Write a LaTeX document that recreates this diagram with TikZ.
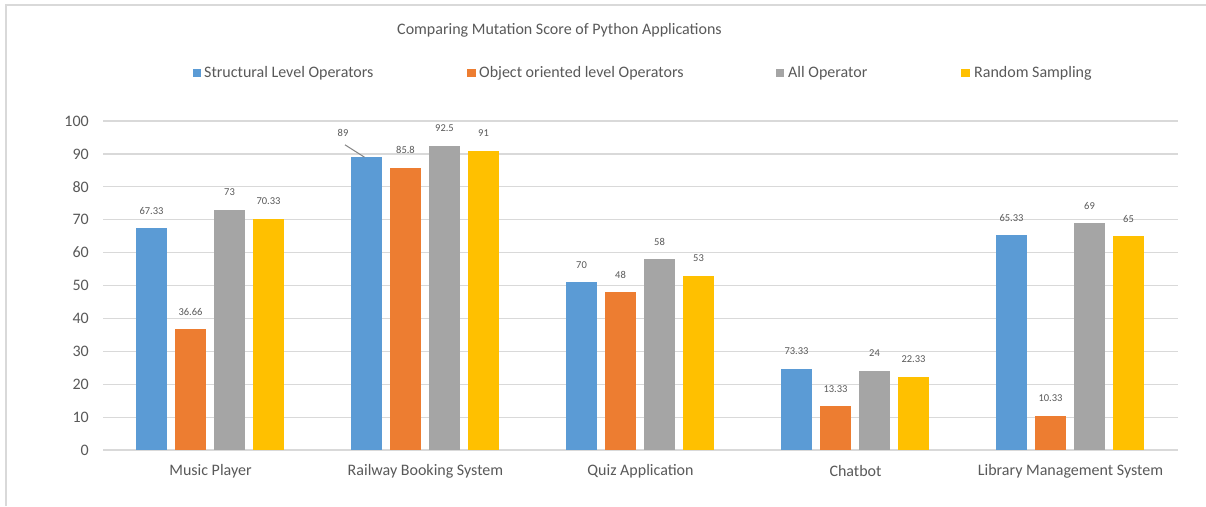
\documentclass[tikz,border=0pt]{standalone}
\usepackage{fontspec}
\setmainfont{Carlito}
\definecolor{c0}{HTML}{5B9BD5}
\definecolor{c1}{HTML}{ED7D31}
\definecolor{c2}{HTML}{A5A5A5}
\definecolor{c3}{HTML}{FFC000}
\definecolor{txt}{HTML}{595959}
\definecolor{gridc}{HTML}{D9D9D9}
\begin{document}
\begin{tikzpicture}[x=1pt,y=-1pt,
  gridline/.style={draw=gridc,line width=1.2pt},
  framel/.style={draw=gridc,line width=1.2pt},
  bar/.style={inner sep=0pt,outer sep=0pt,minimum width=31pt,anchor=south west},
  lab/.style={text=txt,font=\fontsize{10.5}{12}\selectfont,inner sep=0pt},
  tick/.style={text=txt,font=\fontsize{16}{19}\selectfont,anchor=east,inner sep=0pt},
  cat/.style={text=txt,font=\fontsize{16}{19}\selectfont,inner sep=0pt},
  legtext/.style={text=txt,font=\fontsize{16}{19}\selectfont,anchor=west,inner sep=0pt},
  legbox/.style={inner sep=0pt,minimum size=8.5pt},
  leader/.style={draw=c2!80!black,line width=1pt}]
\useasboundingbox (0,0) rectangle (1206,506);
\fill[white] (0,0) rectangle (1206,506);
% frame
\draw[framel] (6,506) -- (6,5) -- (1206,5);
% title
\node[text=txt,font=\fontsize{16}{19}\selectfont,inner sep=0pt] (title) at (559.5,30) {Comparing Mutation Score of Python Applications};
% legend
\node[legbox,fill=c0] (k0) at (197,73) {};
\node[legtext] (t0) at (204,73) {Structural Level Operators};
\node[legbox,fill=c1] (k1) at (471.5,73) {};
\node[legtext] (t1) at (479,73) {Object oriented level Operators};
\node[legbox,fill=c2] (k2) at (780,73) {};
\node[legtext] (t2) at (788,73) {All Operator};
\node[legbox,fill=c3] (k3) at (965.5,73) {};
\node[legtext] (t3) at (974,73) {Random Sampling};
% grid and ticks
\foreach \k in {0,...,10}{
  \coordinate (gl\k) at (103,{450-32.9*\k});
  \coordinate (gr\k) at (1178,{450-32.9*\k});
  \draw[gridline] (gl\k) -- (gr\k);
  \node[tick] (tk\k) at (89,{450-32.9*\k}) {\pgfmathparse{int(10*\k)}\pgfmathresult};
}
% bars
\foreach \g/\i/\v in {0/0/67.33,0/1/36.66,0/2/73,0/3/70.33,
                      1/0/89,1/1/85.8,1/2/92.5,1/3/91,
                      2/0/51,2/1/48,2/2/58,2/3/53,
                      3/0/24.67,3/1/13.33,3/2/24,3/3/22.33,
                      4/0/65.33,4/1/10.33,4/2/69,4/3/65}{
  \node[bar,fill=c\i,minimum height={3.29*\v pt}] (b\g\i) at ({136+215*\g+39*\i},450) {};
}
% data labels
\foreach \g/\i/\t in {0/0/67.33,0/1/36.66,0/2/73,0/3/70.33,
                      1/1/85.8,1/2/92.5,1/3/91,
                      2/0/70,2/1/48,2/2/58,2/3/53,
                      3/0/73.33,3/1/13.33,3/2/24,3/3/22.33,
                      4/0/65.33,4/1/10.33,4/2/69,4/3/65}{
  \node[lab] (l\g\i) at ([yshift=17.5pt]b\g\i.north) {\t};
}
\node[lab] (l10) at (343,133) {89};
\coordinate (p10) at ([xshift=-2pt]b10.north);
\draw[leader] ([shift={(2,8)}]l10.south) -- (p10);
% categories
\node[cat] (cat0) at (210.5,471) {Music Player};
\node[cat] (cat1) at (425.5,471) {Railway Booking System};
\node[cat] (cat2) at (640.5,471) {Quiz Application};
\node[cat] (cat3) at (855.5,471) {Chatbot};
\node[cat] (cat4) at (1070.5,471) {Library Management System};
\end{tikzpicture}
\end{document}
